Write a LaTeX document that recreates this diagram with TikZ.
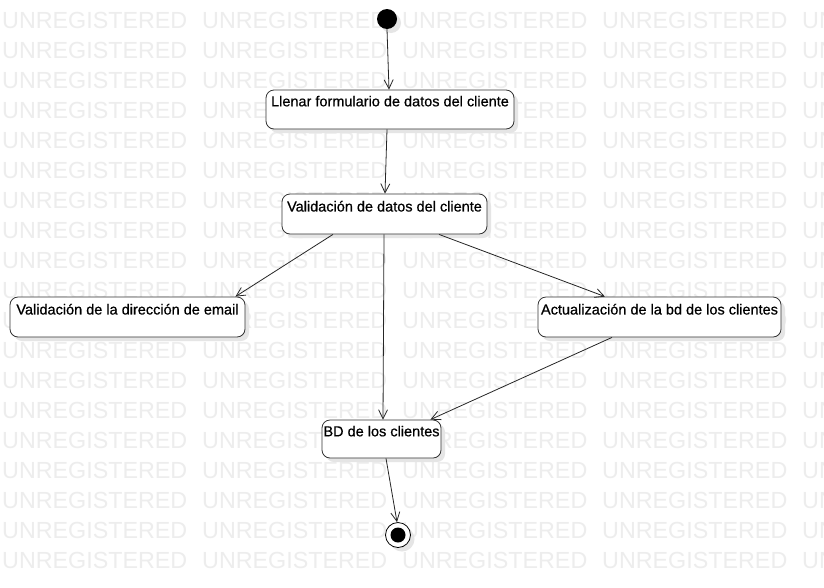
\documentclass[tikz,border=0pt]{standalone}
\usepackage{fontspec}
\setmainfont{Liberation Sans}
\usetikzlibrary{arrows.meta,shadows}
\tikzset{
  wm/.style={inner sep=0pt, anchor=west, text=black!7, font=\fontsize{23.3}{26}\selectfont},
  shade0/.style={drop shadow={shadow xshift=4pt, shadow yshift=-4pt, fill=black!10, opacity=1}},
  actbox/.style={draw=black!80, fill=white, rounded corners=8pt, line width=0.8pt, inner sep=0pt, shade0},
  lbl/.style={font=\fontsize{14.5}{17}\selectfont\addfontfeature{FakeBold=0.6}, inner sep=0pt, anchor=north},
  flow/.style={draw=black!85, line width=0.8pt, -{Straight Barb[length=9pt,width=9pt,line width=0.8pt]}},
}
\begin{document}
\begin{tikzpicture}[x=1pt,y=-1pt]
\useasboundingbox (0,0) rectangle (824,587);
\fill[white] (0,0) rectangle (824,587);
% watermark
\foreach \r in {0,...,18}{
  \foreach \c in {0,...,4}{
    \node[wm, name=w\r-\c] at ({2+200*\c},{20+30*\r}) {UNREGISTERED};
  }
}
% initial and final
\node[circle, fill=black, minimum size=20pt, inner sep=0pt, shade0] (ini) at (387,19) {};
\node[circle, draw=black, fill=white, line width=0.8pt, minimum size=25pt, inner sep=0pt, shade0] (fin) at (398,535) {};
\node[circle, fill=black, minimum size=15pt, inner sep=0pt] (finc) at (398,535) {};
% activity boxes
\node[actbox, minimum width=248pt, minimum height=39pt] (n1) at (390,109.5) {};
\node[lbl] (t1) at ([yshift=-6pt]n1.north) {Llenar formulario de datos del cliente};
\node[actbox, minimum width=205pt, minimum height=40pt] (n2) at (384.5,214) {};
\node[lbl] (t2) at ([yshift=-7pt]n2.north) {Validación de datos del cliente};
\node[actbox, minimum width=235pt, minimum height=40pt] (n3) at (127.5,317) {};
\node[lbl] (t3) at ([yshift=-7pt]n3.north) {Validación de la dirección de email};
\node[actbox, minimum width=243pt, minimum height=40pt] (n4) at (659.5,317) {};
\node[lbl] (t4) at ([yshift=-7pt]n4.north) {Actualización de la bd de los clientes};
\node[actbox, minimum width=119pt, minimum height=38pt] (n5) at (381.5,439) {};
\node[lbl] (t5) at ([yshift=-6pt]n5.north) {BD de los clientes};
% connectors
\draw[flow] (ini.south) -- ([xshift=-1pt]n1.north);
\draw[flow] ([xshift=-3pt]n1.south) -- ([xshift=0.5pt]n2.north);
\draw[flow] ([xshift=-51.5pt]n2.south) -- ([xshift=-10pt]n3.north east);
\draw[flow] ([xshift=-0.5pt]n2.south) -- ([xshift=1.5pt]n5.north);
\draw[flow] ([xshift=54.5pt]n2.south) -- ([xshift=-54.5pt]n4.north);
\draw[flow] ([xshift=-47.5pt]n4.south) -- ([xshift=-11pt]n5.north east);
\draw[flow] ([xshift=4.5pt]n5.south) -- ([xshift=-1pt]fin.north);
\end{tikzpicture}
\end{document}
